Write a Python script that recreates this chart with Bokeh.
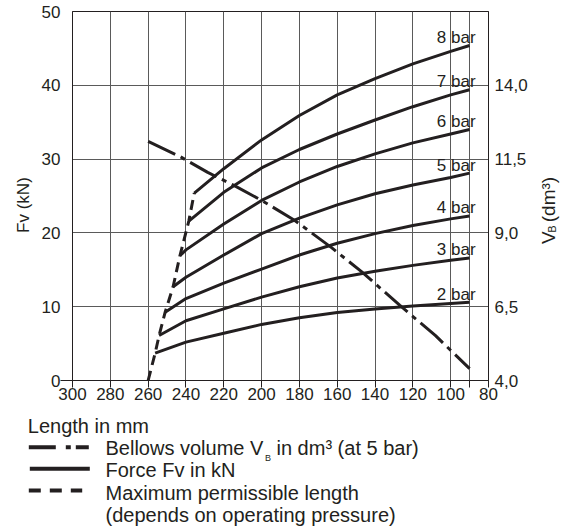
import math
from bokeh.plotting import figure
from bokeh.models import Range1d, LinearAxis, FixedTicker, CustomJSTickFormatter, Grid
from bokeh.layouts import column, row
from bokeh.core.properties import value
from bokeh.embed import file_html
from bokeh.resources import INLINE

INK = "#231f20"
GRID = "#5a5a5a"
FONT = "Liberation Sans"

# ---------------- data ----------------
x_ticks = [300, 280, 260, 240, 220, 200, 180, 160, 140, 120, 100, 80]
x_minor = [90]
force_ticks = [0, 10, 20, 30, 40, 50]
volume_ticks = [4.0, 6.5, 9.0, 11.5, 14.0]

pressures = ["2 bar", "3 bar", "4 bar", "5 bar", "6 bar", "7 bar", "8 bar"]

len_2bar = [256.3, 240, 220, 200, 180, 160, 140, 120, 100, 90]
force_2bar = [3.7, 5.2, 6.4, 7.6, 8.5, 9.2, 9.7, 10.1, 10.45, 10.6]
len_3bar = [254.2, 240, 220, 200, 180, 160, 140, 120, 100, 90]
force_3bar = [6.1, 8.1, 9.7, 11.3, 12.7, 13.9, 14.8, 15.6, 16.3, 16.6]
len_4bar = [251.0, 240, 220, 200, 180, 160, 140, 120, 100, 90]
force_4bar = [9.25, 11.1, 13.2, 15.1, 17.0, 18.6, 19.9, 21.0, 21.9, 22.3]
len_5bar = [246.8, 240, 220, 200, 180, 160, 140, 120, 100, 90]
force_5bar = [12.7, 14.0, 17.0, 19.9, 22.0, 23.8, 25.3, 26.5, 27.5, 28.1]
len_6bar = [243.2, 240, 220, 200, 180, 160, 140, 120, 100, 90]
force_6bar = [16.9, 17.7, 21.2, 24.4, 26.9, 29.0, 30.7, 32.2, 33.4, 34.0]
len_7bar = [238.5, 220, 200, 180, 160, 140, 120, 100, 90]
force_7bar = [21.6, 25.5, 28.8, 31.3, 33.4, 35.3, 37.1, 38.7, 39.4]
len_8bar = [235.6, 220, 200, 180, 160, 140, 120, 100, 90]
force_8bar = [25.4, 28.7, 32.6, 35.9, 38.7, 40.9, 42.9, 44.6, 45.4]

maxlen_mm = [260, 256.3, 254.2, 251.0, 246.8, 243.2, 238.5, 235.6]
maxlen_force = [0, 3.7, 6.1, 9.25, 12.7, 16.9, 21.6, 25.4]

vol_mm = [260, 243, 228.5, 214.4, 200, 182.6, 163, 147, 127, 108, 90]
vol_dm3 = [12.1, 11.58, 11.05, 10.6, 10.1, 9.43, 8.5, 7.68, 6.55, 5.52, 4.4]

lengths = [len_2bar, len_3bar, len_4bar, len_5bar, len_6bar, len_7bar, len_8bar]
forces = [force_2bar, force_3bar, force_4bar, force_5bar, force_6bar, force_7bar, force_8bar]

TOP_H = 408


def blank(width, height):
    f = figure(width=width, height=height, x_range=Range1d(0, width), y_range=Range1d(height, 0),
               output_backend="svg", toolbar_location=None, min_border=0,
               x_axis_location=None, y_axis_location=None)
    f.grid.visible = False
    f.outline_line_color = None
    f.background_fill_color = "white"
    f.border_fill_color = "white"
    return f


# ---------------- main chart ----------------
p = figure(width=496, height=TOP_H, x_range=Range1d(300, 80), y_range=Range1d(0, 50),
           output_backend="svg", toolbar_location=None, y_axis_location=None,
           min_border_left=36, min_border_right=44, min_border_top=11, min_border_bottom=28)
p.extra_y_ranges = {"vb": Range1d(4, 16.5)}
p.background_fill_color = "white"
p.border_fill_color = "white"
p.outline_line_color = INK
p.outline_line_width = 1

xax = p.xaxis[0]
xax.ticker = FixedTicker(ticks=x_ticks, minor_ticks=x_minor)
xax.major_tick_out = 7
xax.major_tick_in = 0
xax.minor_tick_out = 7
xax.minor_tick_in = 0
xax.major_label_standoff = 0

# short stub of the base line left of the frame (at 0 only), nearest to the frame
stub = LinearAxis(ticker=FixedTicker(ticks=[0]), formatter=CustomJSTickFormatter(code="return '';"))
stub.major_tick_out = 12
stub.major_tick_in = 0
stub.minor_tick_line_color = None
stub.major_label_standoff = 0
stub.major_label_text_font_size = "0px"
stub.axis_line_color = INK
stub.major_tick_line_color = INK
p.add_layout(stub, "left")

yax = LinearAxis(ticker=FixedTicker(ticks=force_ticks))
yax.major_tick_out = 0
yax.major_tick_in = 0
yax.minor_tick_line_color = None
yax.major_tick_line_color = None
yax.axis_line_color = None
yax.major_label_standoff = 0
p.add_layout(yax, "left")

vax = LinearAxis(y_range_name="vb", ticker=FixedTicker(ticks=volume_ticks),
                 formatter=CustomJSTickFormatter(code="return tick.toFixed(1).replace('.', ',');"))
vax.major_tick_out = 0
vax.major_tick_in = 0
vax.minor_tick_line_color = None
vax.major_label_standoff = 6
vax.axis_line_color = INK
p.add_layout(vax, "right")

xax.axis_line_color = INK
xax.major_tick_line_color = INK
xax.minor_tick_line_color = INK
for ax in [xax, yax, vax]:
    ax.major_label_text_font = FONT
    ax.major_label_text_font_size = "17px"
    ax.major_label_text_color = INK

p.xgrid.grid_line_color = GRID
p.xgrid.minor_grid_line_color = GRID
p.xgrid.grid_line_width = 1
p.add_layout(Grid(dimension=1, ticker=FixedTicker(ticks=force_ticks),
                  grid_line_color=GRID, grid_line_width=1), "center")

# force curves
for xs, ys in zip(lengths, forces):
    p.line(xs, ys, line_color=INK, line_width=3, line_join="round")

# maximum permissible length
p.line(maxlen_mm, maxlen_force, line_color=INK, line_width=3, line_dash="10 6")

# bellows volume on right axis
p.line(vol_mm, vol_dm3, line_color=INK, line_width=3, line_dash="30 6 5 6", y_range_name="vb")

# pressure labels at the curve ends
p.text(x=[xs[-1] for xs in lengths], y=[ys[-1] for ys in forces], text=pressures,
       text_align="right", text_baseline="middle", x_offset=6, y_offset=-8,
       text_font=value(FONT), text_font_size="17px", text_color=INK)

# ---------------- side titles ----------------
left = blank(36, TOP_H)
left.text(x=[23], y=[214], text=["Fv (kN)"], angle=math.pi / 2,
          text_align="center", text_baseline="middle",
          text_font=value(FONT), text_font_size="17px", text_color=INK)

right = blank(36, TOP_H)
right.text(x=[15.5], y=[257], text=["V"], angle=math.pi / 2,
           text_align="left", text_baseline="middle",
           text_font=value(FONT), text_font_size="19px", text_color=INK)
right.text(x=[19.5], y=[244.5], text=["B"], angle=math.pi / 2,
           text_align="left", text_baseline="middle",
           text_font=value(FONT), text_font_size="11px", text_color=INK)
right.text(x=[15.5], y=[233], text=["(dm³)"], angle=math.pi / 2,
           text_align="left", text_baseline="middle",
           text_font=value(FONT), text_font_size="19px", text_color=INK)

# ---------------- legend block ----------------
q = blank(568, 531 - TOP_H)
LFS = "20px"
q.text(x=[27.3], y=[17], text=["Length in mm"], text_align="left", text_baseline="middle",
       text_font=value(FONT), text_font_size=LFS, text_color=INK)

q.line([28.3, 88.3], [38.7, 38.7], line_color=INK, line_width=4, line_dash="27 10 5 5")
q.line([29.3, 89.3], [60.3, 60.3], line_color=INK, line_width=4)
q.line([28.3, 81.7], [82, 82], line_color=INK, line_width=4, line_dash="12 9")

q.text(x=[105], y=[39.3], text=["Bellows volume V"], text_align="left", text_baseline="middle",
       text_font=value(FONT), text_font_size=LFS, text_color=INK)
q.text(x=[264.5], y=[49.5], text=["B"], text_align="left", text_baseline="middle",
       text_font=value(FONT), text_font_size="9px", text_color=INK)
q.text(x=[276], y=[39.3], text=["in dm³ (at 5 bar)"], text_align="left", text_baseline="middle",
       text_font=value(FONT), text_font_size=LFS, text_color=INK)
q.text(x=[105, 105, 105], y=[61.3, 84.3, 106],
       text=["Force Fv in kN", "Maximum permissible length", "(depends on operating pressure)"],
       text_align="left", text_baseline="middle",
       text_font=value(FONT), text_font_size=LFS, text_color=INK)

layout = column(row(left, p, right), q)
open("out.html", "w").write(file_html(layout, INLINE))
